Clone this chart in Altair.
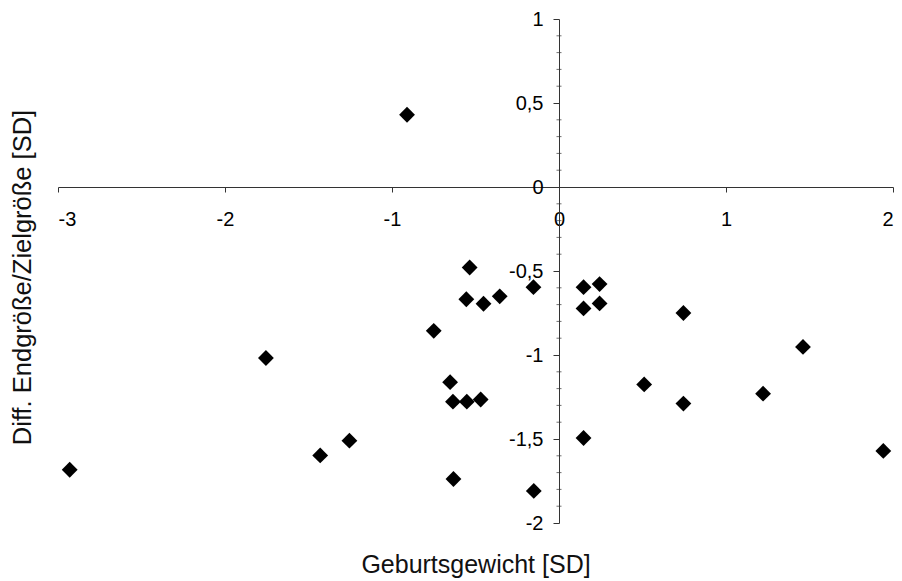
import altair as alt
import pandas as pd

# Geburtsgewicht [SD] (x) and Diff. Endgröße/Zielgröße [SD] (y)
birth_weight = [-0.91, -2.93, -1.755, -1.43, -1.255, -0.75, -0.535, -0.555, -0.452, -0.355,
                -0.153, -0.652, -0.635, -0.552, -0.469, -0.632, -0.151, 0.147, 0.243, 0.147,
                0.243, 0.147, 0.745, 0.51, 0.745, 1.222, 1.461, 1.942]
height_diff = [0.43, -1.683, -1.018, -1.598, -1.51, -0.856, -0.479, -0.668, -0.695, -0.651,
               -0.596, -1.162, -1.278, -1.278, -1.265, -1.738, -1.809, -0.596, -0.578, -0.723,
               -0.693, -1.494, -0.75, -1.175, -1.289, -1.23, -0.952, -1.571]

x_ticks = [-3, -2, -1, 0, 1, 2]
y_ticks = [-2, -1.5, -1, -0.5, 0, 0.5, 1]
y_minor = [round(-2 + 0.1 * i, 1) for i in range(31) if i % 5 != 0]

df = pd.DataFrame({"x": birth_weight, "y": height_diff})
minor_df = pd.DataFrame({"x": [0] * len(y_minor), "y": y_minor})

FONT = "Liberation Sans"
W, H = 835, 504
x_scale = alt.Scale(domain=[-3, 2], nice=False, zero=False)
y_scale = alt.Scale(domain=[-2, 1], nice=False, zero=False)
label_expr = "replace(toString(datum.value), '.', ',')"

x_axis = alt.Axis(
    title="Geburtsgewicht [SD]", values=x_ticks, labelExpr=label_expr,
    offset=-336, grid=False, tickSize=5, labelPadding=17,
    domainColor="#333", tickColor="#333", labelColor="black",
    labelFont=FONT, labelFontSize=20, titleFont=FONT, titleFontSize=25,
    titleFontWeight="normal", titleColor="#111",
    titleBaseline="alphabetic", titleY=385)
y_axis = alt.Axis(
    title="Diff. Endgröße/Zielgröße [SD]", values=y_ticks, labelExpr=label_expr,
    offset=-501, grid=False, tickSize=6, labelPadding=10,
    domainColor="#333", tickColor="#333", labelColor="black",
    labelFont=FONT, labelFontSize=20, titleFont=FONT, titleFontSize=25.5,
    titleFontWeight="normal", titleColor="#111",
    titleBaseline="middle", titleAngle=270, titleX=-537, titleY=258)

points = alt.Chart(df).mark_point(
    shape="diamond", filled=True, color="black", size=250, opacity=1
).encode(
    x=alt.X("x:Q", scale=x_scale, axis=x_axis),
    y=alt.Y("y:Q", scale=y_scale, axis=y_axis),
)

minor = alt.Chart(minor_df).mark_tick(
    orient="horizontal", size=5, thickness=1, color="#333"
).encode(
    x=alt.X("x:Q", scale=x_scale, axis=x_axis),
    y=alt.Y("y:Q", scale=y_scale, axis=y_axis),
)

chart = alt.layer(points, minor).properties(
    width=W, height=H,
    background="white",
    autosize=alt.AutoSizeParams(type="none"),
    padding={"left": 58, "top": 19, "right": 9, "bottom": 58},
).configure_view(stroke="transparent", strokeWidth=0).configure_axis(grid=False)

chart.save("out.html", embed_options={"renderer": "svg", "actions": False})
